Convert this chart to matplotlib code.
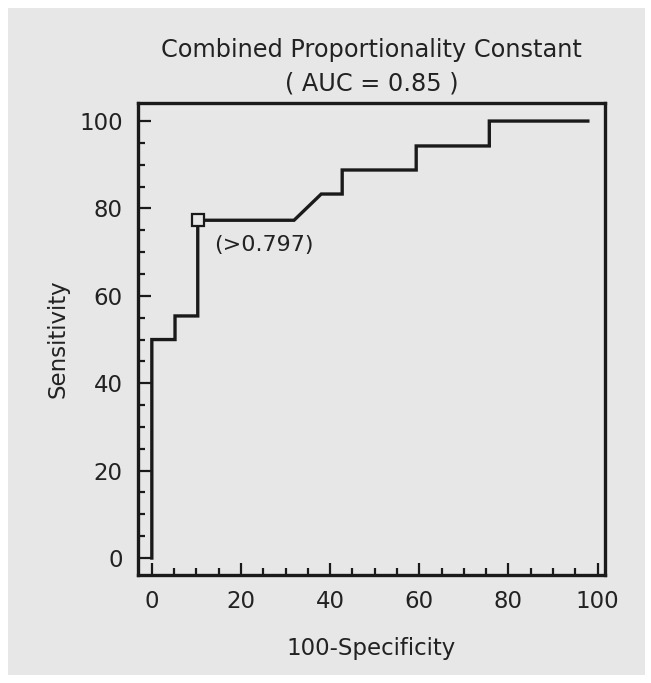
import matplotlib
matplotlib.use("Agg")
import matplotlib.pyplot as plt
from matplotlib.patches import Rectangle
from matplotlib.ticker import MultipleLocator

# ROC curve points (100-Specificity, Sensitivity)
fpr = [0, 0, 5.2, 5.2, 10.3, 10.3, 31.9, 38.0, 42.7, 42.7, 59.3, 59.3, 75.7, 75.7, 97.8]
tpr = [0, 50, 50, 55.4, 55.4, 77.3, 77.3, 83.3, 83.3, 88.8, 88.8, 94.3, 94.3, 100, 100]
cut_x, cut_y = 10.3, 77.3
cut_label = "(>0.797)"
title = "Combined Proportionality Constant\n( AUC = 0.85 )"
xticks = [0, 20, 40, 60, 80, 100]
yticks = [0, 20, 40, 60, 80, 100]

bg = "#e7e7e7"
ink = "#1a1a1a"
plt.rcParams["font.family"] = ["DejaVu Sans"]

fig = plt.figure(figsize=(6.51, 6.83), dpi=100)
fig.patch.set_facecolor("white")
# gray scanned page area behind everything
fig.add_artist(Rectangle((8 / 651, 8 / 683), 637 / 651, 667 / 683,
                         transform=fig.transFigure, facecolor=bg,
                         edgecolor="none", zorder=-10))

ax = fig.add_axes([0.212, 0.158, 0.717, 0.691])
ax.set_facecolor(bg)

ax.plot(fpr, tpr, color=ink, lw=2.4, solid_joinstyle="miter")
ax.plot([cut_x], [cut_y], marker="s", ms=8.5, mfc=bg, mec=ink, mew=1.6)
ax.text(13.9, 71.6, cut_label, fontsize=16, color="#222222",
        ha="left", va="center")

ax.set_xlim(-3.1, 101.6)
ax.set_ylim(-3.9, 104.1)
ax.set_xticks(xticks)
ax.set_yticks(yticks)
ax.xaxis.set_minor_locator(MultipleLocator(5))
ax.yaxis.set_minor_locator(MultipleLocator(5))
ax.tick_params(which="both", direction="in", width=1.6, color=ink,
               top=False, right=False)
ax.tick_params(which="major", length=9, labelsize=16.5, pad=11, labelcolor="#222222")
ax.tick_params(which="minor", length=5)
for s in ax.spines.values():
    s.set_linewidth(2.4)
    s.set_color(ink)

ax.set_xlabel("100-Specificity", fontsize=16.5, color="#222222", labelpad=17)
ax.set_ylabel("Sensitivity", fontsize=16.5, color="#222222", labelpad=7)
ax.set_title(title, fontsize=17.3, color="#222222", pad=9, linespacing=1.5)

fig.savefig("out.png", dpi=100, facecolor=fig.get_facecolor())
